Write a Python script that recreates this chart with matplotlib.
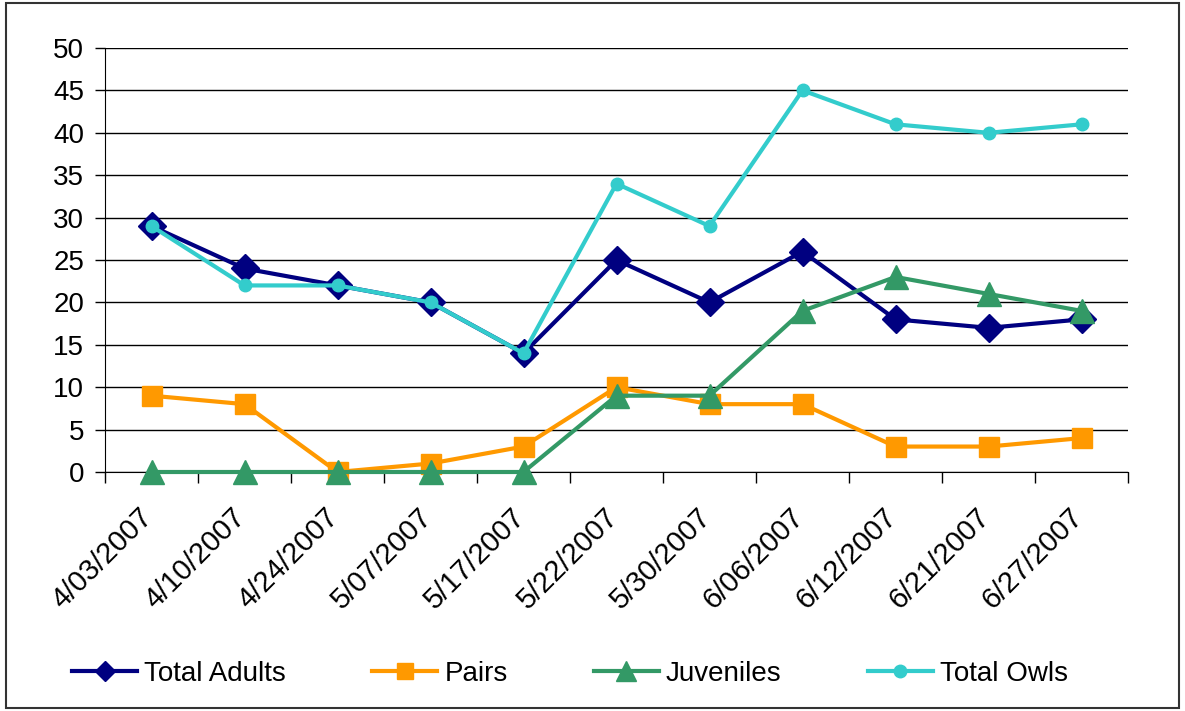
import matplotlib
matplotlib.use("Agg")
import matplotlib.pyplot as plt
from matplotlib.patches import Rectangle
from matplotlib.transforms import ScaledTranslation, blended_transform_factory

dates = ["4/03/2007", "4/10/2007", "4/24/2007", "5/07/2007", "5/17/2007", "5/22/2007",
         "5/30/2007", "6/06/2007", "6/12/2007", "6/21/2007", "6/27/2007"]
total_adults = [29, 24, 22, 20, 14, 25, 20, 26, 18, 17, 18]
pairs = [9, 8, 0, 1, 3, 10, 8, 8, 3, 3, 4]
juveniles = [0, 0, 0, 0, 0, 9, 9, 19, 23, 21, 19]
total_owls = [29, 22, 22, 20, 14, 34, 29, 45, 41, 40, 41]
y_ticks = [0, 5, 10, 15, 20, 25, 30, 35, 40, 45, 50]

plt.rcParams['font.family'] = ['Liberation Sans', 'DejaVu Sans']

W, H = 1185, 711
fig = plt.figure(figsize=(W / 100, H / 100), dpi=100)
ax = fig.add_axes([105 / W, 1 - 472 / H, (1128 - 105) / W, (472 - 48) / H])

x = list(range(len(dates)))
lw = 3
ax.plot(x, total_adults, color='#000080', lw=lw, marker='D', ms=14.5, label='Total Adults', zorder=3, clip_on=False)
ax.plot(x, pairs, color='#FF9900', lw=lw, marker='s', ms=15, label='Pairs', zorder=3, clip_on=False)
ax.plot(x, juveniles, color='#339966', lw=lw, marker='^', ms=17, label='Juveniles', zorder=3, clip_on=False)
ax.plot(x, total_owls, color='#33CCCC', lw=lw, marker='o', ms=9, label='Total Owls', zorder=4, clip_on=False)

ax.set_xlim(-0.5, len(dates) - 0.5)
ax.set_ylim(0, 50)
ax.set_yticks(y_ticks)
ax.set_yticklabels([str(v) for v in y_ticks], fontsize=20)
ax.yaxis.grid(True, color='black', lw=1)
ax.set_axisbelow(True)

# category boundary ticks (no labels)
ax.set_xticks([i - 0.5 for i in range(len(dates) + 1)])
ax.set_xticklabels([''] * (len(dates) + 1))
ax.tick_params(axis='x', length=8, width=1, direction='out')
ax.tick_params(axis='y', length=7, width=1, direction='out', pad=8)

# rotated category labels, anchored at each category centre
trans = blended_transform_factory(ax.transData, ax.transAxes) + \
    ScaledTranslation(-13 / 100, -31 / 100, fig.dpi_scale_trans)
for i, d in enumerate(dates):
    ax.text(i, 0, d, transform=trans, rotation=45, ha='right', va='top',
            rotation_mode='anchor', fontsize=21)

for s in ['top', 'right']:
    ax.spines[s].set_visible(False)
ax.spines['left'].set_color('black')
ax.spines['bottom'].set_color('black')

leg = fig.legend(loc='center', bbox_to_anchor=(0.481, 1 - 674 / H), ncol=4, frameon=False,
                 fontsize=20, handlelength=2.35, columnspacing=3.1, handletextpad=0.25)
for h, m in zip(leg.legend_handles, [10, 12, 14, 9]):
    h.set_markersize(m)

fig.patches.append(Rectangle((6 / W, 3 / H), (W - 12) / W, (H - 6) / H, transform=fig.transFigure,
                             fill=False, edgecolor='#333333', lw=1.5))

fig.savefig('out.png', dpi=100)
